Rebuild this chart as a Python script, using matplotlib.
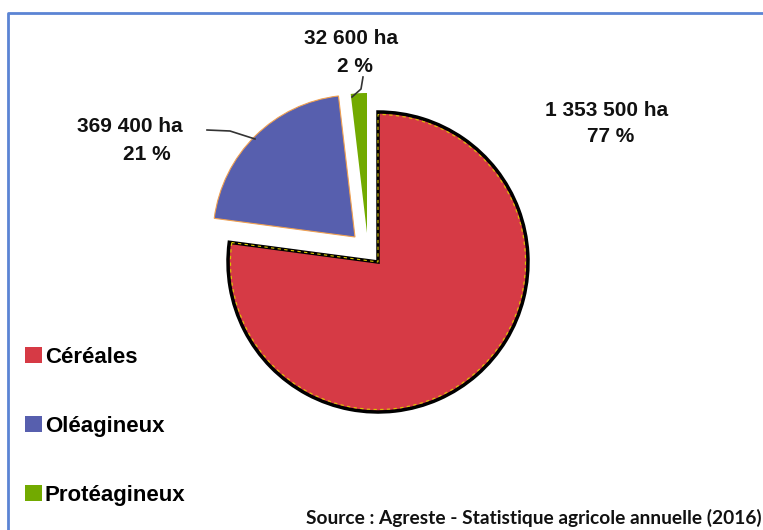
import matplotlib
matplotlib.use("Agg")
import matplotlib.pyplot as plt
from matplotlib.patches import Patch, Wedge

categories = ["Céréales", "Oléagineux", "Protéagineux"]
surfaces = [1353500, 369400, 32600]
surface_labels = ["1 353 500 ha", "369 400 ha", "32 600 ha"]
pct_labels = ["77 %", "21 %", "2 %"]
colors = ["#D63A45", "#575FAE", "#72AA00"]

W, H = 763, 530
fig = plt.figure(figsize=(W / 100, H / 100), dpi=100)
ax = fig.add_axes([0, 0, 1, 1])

# frame (blue border, top and left)
ax.plot([8, 8, W], [0, H - 13, H - 13], color="#5B84D4", lw=2, solid_capstyle="butt")

# explode is in data units here (axes units = pixels)
wedges, _ = ax.pie(surfaces, colors=colors, startangle=90, counterclock=False,
                   explode=[0, 34, 31], center=(378, 268), radius=150,
                   frame=True)
ax.set_xlim(0, W)
ax.set_ylim(0, H)
ax.set_aspect("equal")
ax.axis("off")
wedges[0].set_edgecolor("black")
wedges[0].set_linewidth(2.5)
wedges[1].set_edgecolor("#F0A050")
wedges[1].set_linewidth(0.8)
wedges[1].set_radius(142)
wedges[1].set_center((355, 293))
wedges[2].set_linewidth(0)
wedges[2].set_radius(140)
wedges[2].set_center((367, 297))

# thin dashed yellow line just inside the black outline of the red slice
w0 = wedges[0]
ax.add_patch(Wedge(w0.center, w0.r - 2.5, w0.theta1, w0.theta2, fill=False,
                   edgecolor="#D8C800", linestyle=(0, (3, 3)), linewidth=0.8))

bold = dict(fontsize=15, fontweight="bold", family="Liberation Sans", color="#111111")

# labels (line 1 = surface, line 2 = percent)
lab_pos = [((607, 110), (611, 137)), ((130, 127), (147, 155)), ((351, 38), (355, 67))]
for i in range(3):
    (x1, y1), (x2, y2) = lab_pos[i]
    ax.text(x1, H - y1, surface_labels[i], ha="center", va="center", **bold)
    ax.text(x2, H - y2, pct_labels[i], ha="center", va="center", **bold)

# leader lines
ax.plot([207, 230, 255], [H - 130, H - 131, H - 139], color="#333333", lw=1.2)
ax.plot([363, 361, 352], [H - 77, H - 89, H - 97], color="#333333", lw=1.2)

handles = [Patch(facecolor=c, edgecolor="none") for c in colors]
ax.legend(handles, categories, loc="upper left", bbox_to_anchor=(25, H - 347),
          bbox_transform=ax.transData, frameon=False, borderpad=0, borderaxespad=0,
          handlelength=0.75, handleheight=0.75, handletextpad=0.15, labelspacing=2.15,
          prop=dict(size=16, weight="bold", family="Liberation Sans"))

ax.text(762, H - 518, "Source : Agreste - Statistique agricole annuelle (2016)",
        ha="right", va="center", fontsize=13.8, fontweight="bold", family="Lato",
        color="#111111")

fig.savefig("out.png", dpi=100)
